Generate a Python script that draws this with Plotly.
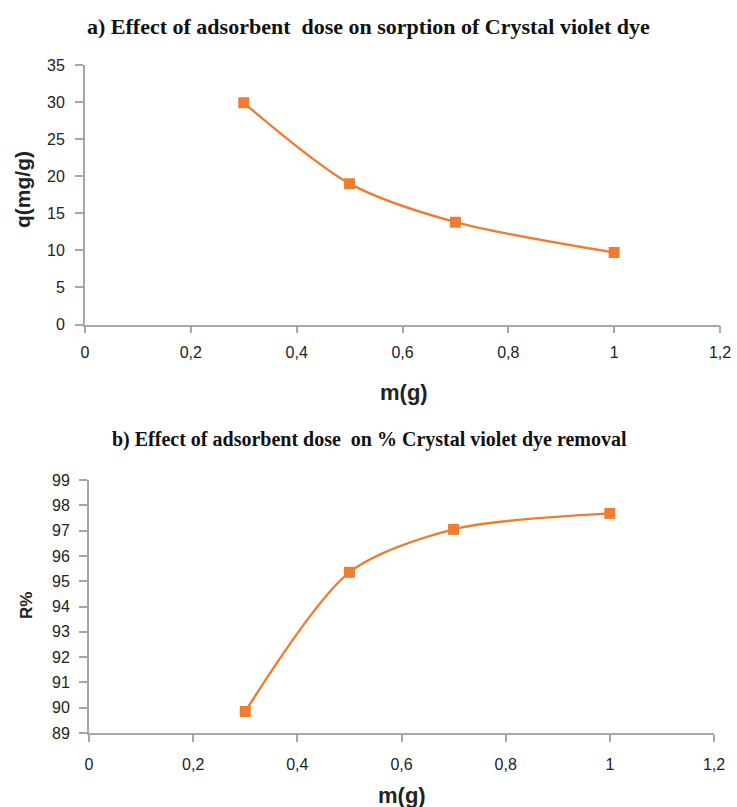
import plotly.graph_objects as go

m_vals = [0.3, 0.5, 0.7, 1.0]
q_vals = [29.9, 19.0, 13.8, 9.7]
r_vals = [89.85, 95.35, 97.05, 97.68]

x_ticks = [0, 0.2, 0.4, 0.6, 0.8, 1.0, 1.2]
x_ticklabels = ["0", "0,2", "0,4", "0,6", "0,8", "1", "1,2"]
q_ticks = list(range(0, 36, 5))
r_ticks = list(range(89, 100))

W, H = 737, 807
orange = "#ED7D31"
axis_col = "#A6A6A6"
tick_font = dict(family="Liberation Sans", size=16, color="#222")

fig = go.Figure()
fig.add_trace(go.Scatter(x=m_vals, y=q_vals, mode="lines+markers",
                         line=dict(color=orange, width=2.4, shape="spline", smoothing=0.8),
                         marker=dict(symbol="square", size=11, color=orange),
                         xaxis="x", yaxis="y", showlegend=False))
fig.add_trace(go.Scatter(x=m_vals, y=r_vals, mode="lines+markers",
                         line=dict(color=orange, width=2.4, shape="spline", smoothing=0.8),
                         marker=dict(symbol="square", size=11, color=orange),
                         xaxis="x2", yaxis="y2", showlegend=False))

def py(p):
    return 1 - p / H

common_x = dict(range=[0, 1.2], tickvals=x_ticks, ticktext=x_ticklabels, showgrid=False,
                zeroline=False, showline=True, linecolor=axis_col, linewidth=1.8,
                ticks="outside", ticklen=7, tickcolor=axis_col, tickwidth=1.5,
                tickfont=tick_font, automargin=False)
common_y = dict(showgrid=False, zeroline=False, showline=True, linecolor=axis_col, linewidth=1.8,
                ticks="outside", ticklen=8, tickcolor=axis_col, tickwidth=1.5,
                tickfont=tick_font, automargin=False)

fig.update_layout(
    width=W, height=H,
    margin=dict(l=0, r=0, t=0, b=0),
    paper_bgcolor="white", plot_bgcolor="white",
    xaxis=dict(domain=[85 / W, 720 / W], anchor="y", ticklabelstandoff=5, **common_x),
    yaxis=dict(domain=[py(324.5), py(65)], anchor="x", range=[0, 35], tickvals=q_ticks,
               ticklabelstandoff=7, **common_y),
    xaxis2=dict(domain=[89 / W, 714 / W], anchor="y2", ticklabelstandoff=9, **common_x),
    yaxis2=dict(domain=[py(733), py(480)], anchor="x2", range=[89, 99], tickvals=r_ticks,
                ticklabelstandoff=6, **common_y),
)

ann = [
    dict(text="<b>a) Effect of adsorbent  dose on sorption of Crystal violet dye</b>", x=368 / W, y=py(27),
         font=dict(family="Liberation Serif", size=22, color="#111")),
    dict(text="<b>b) Effect of adsorbent dose  on % Crystal violet dye removal</b>", x=369 / W, y=py(439),
         font=dict(family="Liberation Serif", size=20, color="#111")),
    dict(text="<b>m(g)</b>", x=404 / W, y=py(392), font=dict(family="Liberation Sans", size=22, color="#222")),
    dict(text="<b>m(g)</b>", x=402 / W, y=py(795), font=dict(family="Liberation Sans", size=22, color="#222")),
    dict(text="<b>q(mg/g)</b>", x=22 / W, y=py(190), font=dict(family="Liberation Sans", size=21, color="#222"),
         textangle=-90),
    dict(text="<b>R%</b>", x=26 / W, y=py(606), font=dict(family="Liberation Sans", size=17, color="#222"),
         textangle=-90),
]
for a in ann:
    fig.add_annotation(xref="paper", yref="paper", showarrow=False, xanchor="center", yanchor="middle", **a)

fig.write_html("out.html")
